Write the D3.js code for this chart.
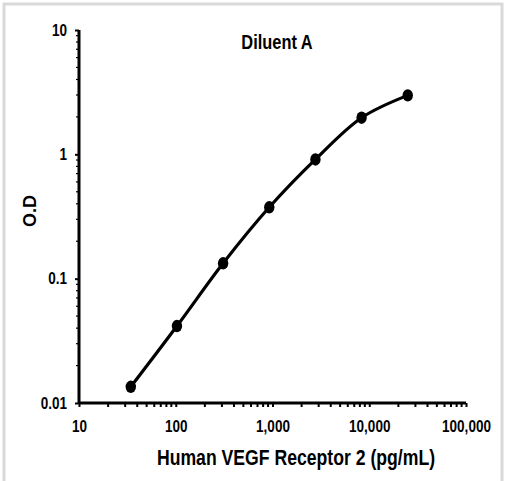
<!DOCTYPE html>
<html lang="en">
  <head>
    <meta charset="utf-8">
    <title>Diluent A</title>
    <style>
      body { margin: 0; background: #fff; }
      text { font-family: "Liberation Sans", Arial, sans-serif; font-weight: bold; fill: #000; }
    </style>
  </head>
  <body>
    <div id="chart"></div>
    <script src="https://d3js.org/d3.v7.min.js" charset="utf-8"></script>
    <script>
      // standard curve, 3-fold dilutions
      let concentration = [34.3, 102.9, 308.6, 925.9, 2777.8, 8333.3, 25000];
      let od = [0.0135, 0.0416, 0.133, 0.375, 0.91, 1.97, 2.98];
      let xTicks = [10, 100, 1000, 10000, 100000];
      let yTicks = [0.01, 0.1, 1, 10];

      let width = 505, height = 481;
      let narrow = 0.82; // no narrow font installed, squeeze instead

      let svg = d3.select('#chart').append('svg')
        .attr('width', width).attr('height', height);

      // light grey frame
      svg.append('path')
        .attr('d', 'M4,481 V4 H502 V481')
        .attr('fill', 'none')
        .attr('stroke', '#d9d9d9')
        .attr('stroke-width', 3);

      let x = d3.scaleLog().domain([10, 100000]).range([79, 466]);
      let y = d3.scaleLog().domain([0.01, 10]).range([403, 30]);

      let minorX = [];
      let minorY = [];
      for (let d = 10; d < 100000; d *= 10) {
        for (let k = 2; k < 10; k++) minorX.push(d * k);
      }
      for (let d = 0.01; d < 9; d *= 10) {
        for (let k = 2; k < 10; k++) minorY.push(d * k);
      }

      // minor ticks
      svg.append('g').selectAll('line').data(minorX).enter().append('line')
        .attr('x1', d => x(d)).attr('x2', d => x(d))
        .attr('y1', 403).attr('y2', 407)
        .attr('stroke', '#000').attr('stroke-width', 2);
      svg.append('g').selectAll('line').data(minorY).enter().append('line')
        .attr('x1', 79).attr('x2', 76)
        .attr('y1', d => y(d)).attr('y2', d => y(d))
        .attr('stroke', '#000').attr('stroke-width', 1.2);

      // axes
      let xAxis = d3.axisBottom(x).tickValues(xTicks)
        .tickFormat(d3.format(',')).tickSize(4).tickPadding(13);
      let yAxis = d3.axisLeft(y).tickValues(yTicks)
        .tickFormat(d => d >= 1 ? d3.format('d')(d) : d3.format('.2~f')(d))
        .tickSize(4).tickPadding(8);

      let gx = svg.append('g').attr('transform', 'translate(0,403)').call(xAxis);
      let gy = svg.append('g').attr('transform', 'translate(79,0)').call(yAxis);
      [gx, gy].forEach(g => {
        g.select('.domain').attr('stroke', '#000').attr('stroke-width', 3);
        g.selectAll('.tick line').attr('stroke', '#000').attr('stroke-width', 2);
        g.selectAll('.tick text')
          .style('font-size', '16.5px')
          .attr('fill', '#000')
          .attr('transform', 'scale(' + narrow + ',1)');
      });
      gy.selectAll('.tick text').attr('x', -12 / narrow);
      gx.select('.domain').attr('d', 'M79,0H466');
      gy.select('.domain').attr('d', 'M0,403V30');

      // smoothed curve
      let pts = concentration.map((c, i) => [c, od[i]]);
      let line = d3.line()
        .x(d => x(d[0])).y(d => y(d[1]))
        .curve(d3.curveCatmullRom);
      svg.append('path')
        .datum(pts)
        .attr('d', line)
        .attr('fill', 'none')
        .attr('stroke', '#000')
        .attr('stroke-width', 3.2);

      svg.append('g').selectAll('ellipse').data(pts).enter().append('ellipse')
        .attr('cx', d => x(d[0])).attr('cy', d => y(d[1]))
        .attr('rx', 5.2).attr('ry', 6.2)
        .attr('fill', '#000');

      // titles
      svg.append('text')
        .attr('transform', 'translate(277,49) scale(' + narrow + ',1)')
        .attr('text-anchor', 'middle')
        .style('font-size', '20px')
        .text('Diluent A');

      svg.append('text')
        .attr('transform', 'translate(296,465) scale(' + narrow + ',1)')
        .attr('text-anchor', 'middle')
        .style('font-size', '21.5px')
        .text('Human VEGF Receptor 2 (pg/mL)');

      svg.append('text')
        .attr('transform', 'translate(36,211) rotate(-90)')
        .attr('text-anchor', 'middle')
        .style('font-size', '18px')
        .text('O.D');
    </script>
  </body>
</html>
